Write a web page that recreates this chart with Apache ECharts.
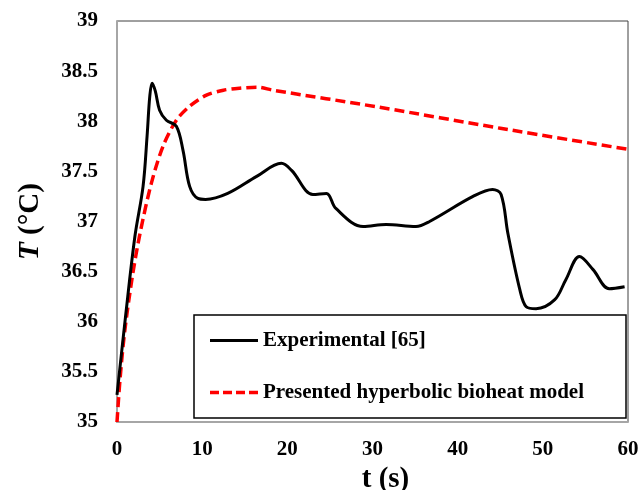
<!DOCTYPE html>
<html>
<head>
<meta charset="utf-8">
<script src="https://cdn.jsdelivr.net/npm/echarts@6/dist/echarts.min.js"></script>
<style>html,body{margin:0;padding:0;background:#fff;}#c{width:641px;height:490px;}</style>
</head>
<body>
<div id="c"></div>
<script>
var seriesNames = ['Experimental [65]', 'Presented hyperbolic bioheat model'];
var expTime = [0, 1, 2.1, 3.06, 3.53, 3.85, 4.12, 4.5, 5.0, 5.8, 6.97, 7.75, 8.53, 9.5, 10.4, 13.0, 16.4, 19.3, 20.5, 23.0, 24.6, 25.7, 28.9, 31.6, 35.1, 36.7, 41.8, 44.1, 45.1, 45.9, 47.3, 48.05, 49.2, 51.4, 52.7, 54.3, 55.9, 57.8, 59.6];
var expTemp = [35.27, 36.05, 36.85, 37.35, 37.85, 38.25, 38.38, 38.3, 38.11, 38.01, 37.95, 37.71, 37.35, 37.23, 37.22, 37.28, 37.45, 37.58, 37.51, 37.27, 37.28, 37.13, 36.95, 36.97, 36.95, 37.0, 37.25, 37.32, 37.27, 36.88, 36.32, 36.15, 36.13, 36.22, 36.42, 36.65, 36.52, 36.33, 36.35];
var modTime = [0, 0.35, 0.9, 1.8, 2.7, 4.03, 5.4, 6.97, 8.53, 10.5, 12.5, 14.4, 16.5, 18.3, 30.8, 45, 60];
var modTemp = [35.0, 35.42, 35.9, 36.45, 36.88, 37.38, 37.75, 38.01, 38.15, 38.26, 38.31, 38.33, 38.34, 38.31, 38.14, 37.93, 37.72];
var xTicks = {min: 0, max: 60, interval: 10};
var yTicks = {min: 35, max: 39, interval: 0.5};

function pairs(xs, ys) { return xs.map(function (x, i) { return [x, ys[i]]; }); }

var chart = echarts.init(document.getElementById('c'), null, {renderer: 'canvas'});
var font = '"Liberation Serif", "Times New Roman", serif';
chart.setOption({
  animation: false,
  backgroundColor: '#fff',
  grid: {left: 117, right: 13, top: 21, bottom: 68, show: true, borderColor: '#404040', borderWidth: 1,
         containLabel: false, outerBoundsMode: 'none'},
  xAxis: {
    type: 'value', min: xTicks.min, max: xTicks.max, interval: xTicks.interval,
    name: 't (s)', nameLocation: 'middle', nameGap: 35,
    nameTextStyle: {fontFamily: font, fontWeight: 'bold', fontSize: 29, color: '#000', padding: [0, 0, 0, 26]},
    axisLine: {show: true, lineStyle: {color: '#a6a6a6', width: 2}},
    axisTick: {show: false},
    splitLine: {show: false},
    axisLabel: {fontFamily: font, fontWeight: 'bold', fontSize: 21, color: '#000', margin: 17}
  },
  yAxis: {
    type: 'value', min: yTicks.min, max: yTicks.max, interval: yTicks.interval,
    name: '{i|T}{b| (°C)}', nameLocation: 'middle', nameGap: 72, nameRotate: 90,
    nameTextStyle: {
      rich: {
        i: {fontFamily: font, fontStyle: 'italic', fontWeight: 'bold', fontSize: 29, color: '#000'},
        b: {fontFamily: font, fontWeight: 'bold', fontSize: 29, color: '#000'}
      }
    },
    axisLine: {show: true, lineStyle: {color: '#a6a6a6', width: 2}},
    axisTick: {show: false},
    splitLine: {show: false},
    axisLabel: {fontFamily: font, fontWeight: 'bold', fontSize: 21, color: '#000', margin: 19}
  },
  legend: {
    orient: 'vertical', left: 194, top: 315,
    backgroundColor: '#fff', borderColor: '#000', borderWidth: 1.5,
    padding: [15, 42, 15, 16], itemGap: 31, itemWidth: 48, itemHeight: 21,
    textStyle: {fontFamily: font, fontWeight: 'bold', fontSize: 21, color: '#000'},
    data: [
      {name: seriesNames[0], icon: 'path://M0,0 L48,0 L48,3 L0,3 Z', itemStyle: {color: '#000'}},
      {name: seriesNames[1], icon: 'path://M0,0 L9,0 L9,3.5 L0,3.5 Z M13,0 L22,0 L22,3.5 L13,3.5 Z M26,0 L35,0 L35,3.5 L26,3.5 Z M39,0 L48,0 L48,3.5 L39,3.5 Z', itemStyle: {color: '#ff0000'}}
    ]
  },
  series: [
    {
      name: seriesNames[0], type: 'line', data: pairs(expTime, expTemp), smooth: 0.35,
      showSymbol: false, symbol: 'none',
      lineStyle: {color: '#000', width: 3}, itemStyle: {color: '#000'}, z: 3
    },
    {
      name: seriesNames[1], type: 'line', data: pairs(modTime, modTemp), smooth: 0.3,
      showSymbol: false, symbol: 'none',
      lineStyle: {color: '#ff0000', width: 3.5, type: [10, 5]}, itemStyle: {color: '#ff0000'}, z: 2
    }
  ]
});
</script>
</body>
</html>
